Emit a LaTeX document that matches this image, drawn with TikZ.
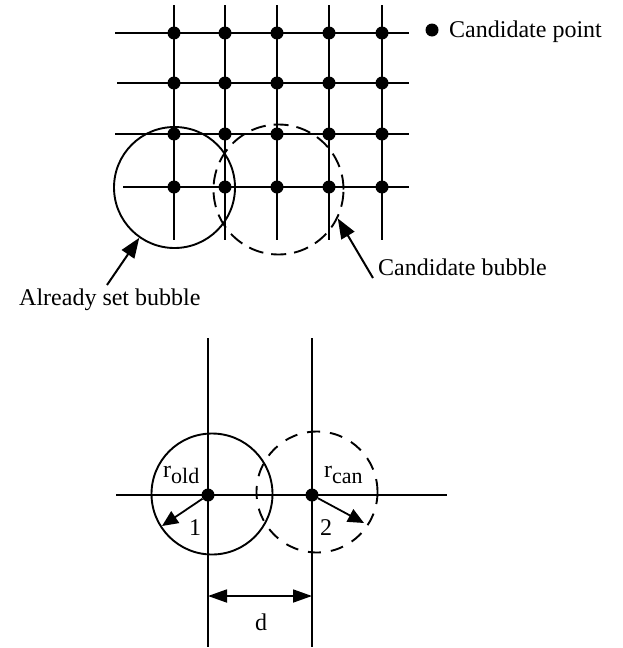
\documentclass[tikz,border=0pt]{standalone}
\usepackage{fontspec}
\setmainfont{Liberation Serif}
\usetikzlibrary{arrows.meta}
\newcommand{\radlab}[1]{r\raisebox{-6pt}{\fontsize{22}{24}\selectfont #1}}

\begin{document}
\begin{tikzpicture}[
    x=1pt, y=-1pt,
    gridln/.style={line width=2pt},
    gpt/.style={circle, fill, inner sep=0pt, minimum size=13pt},
    bubble/.style={circle, draw, line width=1.9pt, inner sep=0pt, minimum size=121pt},
    cbubble/.style={bubble, dash pattern=on 15pt off 8pt},
    pointer/.style={-{Triangle[length=20pt, width=15pt]}, line width=2pt},
    radius/.style={-{Triangle[length=16pt, width=14pt]}, line width=1.8pt},
    dimarrow/.style={{Triangle[length=19pt, width=13pt]}-{Triangle[length=19pt, width=13pt]}, line width=1.8pt},
    label/.style={font=\fontsize{24}{28}\selectfont, inner sep=0pt, anchor=base west}
]
  \useasboundingbox (0,0) rectangle (622,648);

  % Candidate grid
  \foreach \x in {174,225,277,329,382}{
    \draw[gridln] (\x,5) -- (\x,240);
  }
  \foreach \y/\a in {33/115, 83/117, 134/115, 187/123}{
    \draw[gridln] (\a,\y) -- (409,\y);
  }
  \foreach \x [count=\c] in {174,225,277,329,382}{
    \foreach \y [count=\r] in {33,83,134,187}{
      \node[gpt] (p-\r-\c) at (\x,\y) {};
    }
  }

  % Legend
  \node[gpt] (key) at (432,30) {};
  \node[label] (lkey) at (449,37) {Candidate point};

  % Bubbles on the grid
  \node[bubble] (old) at (174.5,187.5) {};
  \node[cbubble, minimum size=130pt] (cand) at (278.5,189.5) {};

  % Labels with pointers
  \node[label] (lold) at (19,305) {Already set bubble};
  \node[label] (lcand) at (378,275) {Candidate bubble};
  \coordinate (oldtail) at (107,285);
  \coordinate (candtail) at (373,278);
  \draw[pointer] (oldtail) -- (old.235);
  \draw[pointer] (candtail) -- (cand.334);

  % Distance between two bubbles
  \draw[gridln, line width=1.8pt] (208,338) -- (208,647);
  \draw[gridln, line width=1.8pt] (312,338) -- (312,647);
  \draw[gridln, line width=1.8pt] (116,495) -- (447,495);
  \node[bubble] (bold) at (212,494) {};
  \node[cbubble, dash pattern=on 13pt off 10pt] (bcand) at (317,492) {};
  \node[gpt] (c1) at (208,495) {};
  \node[gpt] (c2) at (312,495) {};
  \coordinate (r1) at (162,526);
  \coordinate (r2) at (364,523);
  \draw[radius] (c1) -- (r1);
  \draw[radius] (c2) -- (r2);
  \node[label] (rold) at (163,477) {\radlab{old}};
  \node[label] (rcan) at (324,477) {\radlab{can}};
  \node[label] (n1) at (189,535) {1};
  \node[label] (n2) at (320,535) {2};

  \coordinate (dl) at (208,596);
  \coordinate (dr) at (312,596);
  \draw[dimarrow] (dl) -- (dr);
  \node[label, anchor=base] (dlab) at (261,630) {d};
\end{tikzpicture}
\end{document}
